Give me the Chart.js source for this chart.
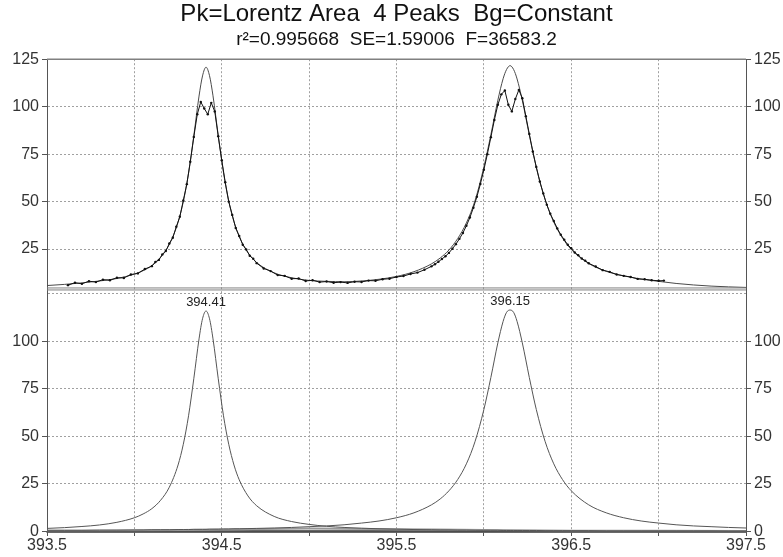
<!DOCTYPE html>
<html>
<head>
<meta charset="utf-8">
<script src="https://cdn.jsdelivr.net/npm/chart.js@4.4.1/dist/chart.umd.min.js"></script>
<style>
  html, body { margin: 0; padding: 0; background: #fff; }
</style>
</head>
<body>
<canvas id="myChart" width="783" height="557"></canvas>
<script>
const curveX = [393.5, 393.6, 393.7, 393.8, 393.9, 394.0, 394.05, 394.1, 394.15, 394.2,
    394.25, 394.28, 394.31, 394.34, 394.37, 394.39, 394.41, 394.43, 394.45, 394.48,
    394.51, 394.54, 394.57, 394.6, 394.65, 394.7, 394.8, 394.9, 395.0, 395.1,
    395.2, 395.3, 395.4, 395.5, 395.6, 395.7, 395.75, 395.8, 395.85, 395.9,
    395.95, 396.0, 396.04, 396.08, 396.11, 396.13, 396.15, 396.17, 396.19, 396.22,
    396.26, 396.3, 396.35, 396.4, 396.45, 396.5, 396.6, 396.7, 396.8, 396.9,
    397.0, 397.1, 397.2, 397.3, 397.4, 397.5];

// upper panel: fitted curve
const fitY = [5.8, 6.4, 7.2, 8.2, 9.5, 11.8, 13.6, 16.3, 20.6, 27.5,
    39.1, 50.0, 65.0, 84.6, 105.6, 116.2, 120.8, 116.3, 105.7, 84.7,
    65.3, 50.2, 39.4, 31.6, 23.1, 17.9, 12.5, 9.9, 8.5, 8.0,
    7.8, 8.2, 9.1, 10.6, 13.1, 17.2, 20.3, 24.5, 30.5, 38.8,
    50.7, 68.2, 85.2, 103.4, 114.7, 119.6, 121.6, 119.6, 114.6, 103.3,
    85.1, 68.0, 51.2, 39.2, 30.8, 24.8, 17.4, 13.3, 10.9, 9.2,
    8.0, 6.9, 6.1, 5.5, 5.1, 4.8];

// lower panel: the two main peaks
const peak1Y = [1.5, 1.9, 2.5, 3.3, 4.7, 7.1, 9.1, 11.9, 16.3, 23.2,
    34.9, 45.8, 60.8, 80.3, 101.3, 111.9, 116.0, 111.9, 101.3, 80.3,
    60.8, 45.8, 34.9, 27.1, 18.6, 13.4, 7.8, 5.1, 3.6, 2.6,
    2.0, 1.6, 1.3, 1.1, 0.9, 0.8, 0.7, 0.7, 0.6, 0.6,
    0.5, 0.5, 0.5, 0.5, 0.4, 0.4, 0.4, 0.4, 0.4, 0.4,
    0.4, 0.4, 0.3, 0.3, 0.3, 0.3, 0.3, 0.2, 0.2, 0.2,
    0.2, 0.2, 0.2, 0.2, 0.1, 0.1];
const peak2Y = [0.5, 0.5, 0.5, 0.6, 0.6, 0.7, 0.7, 0.8, 0.8, 0.8,
    0.9, 0.9, 0.9, 1.0, 1.0, 1.0, 1.0, 1.1, 1.1, 1.1,
    1.2, 1.2, 1.3, 1.3, 1.4, 1.5, 1.7, 2.0, 2.4, 2.8,
    3.4, 4.3, 5.4, 7.1, 9.7, 13.9, 17.0, 21.3, 27.2, 35.5,
    47.4, 64.1, 81.0, 99.2, 110.5, 115.3, 116.5, 115.3, 110.5, 99.2,
    81.0, 64.1, 47.4, 35.5, 27.2, 21.3, 13.9, 9.7, 7.1, 5.4,
    4.3, 3.4, 2.8, 2.4, 2.0, 1.7];

// lower panel: the two tiny peaks near zero
const smallX = [393.5, 394.0, 394.5, 395.0, 395.5, 396.0, 396.5, 397.0, 397.5];
const peak3Y = [0.2, 0.4, 0.9, 1.5, 1.1, 0.6, 0.3, 0.2, 0.1];
const peak4Y = [0.1, 0.1, 0.1, 0.1, 0.1, 0.1, 0.1, 0.1, 0.1];

// measured points
const dataX = [393.62, 393.66, 393.70, 393.74, 393.78, 393.82, 393.86, 393.90, 393.94, 393.98,
    394.02, 394.06, 394.10,
    394.12, 394.14, 394.16, 394.18, 394.20, 394.22, 394.24, 394.26, 394.28, 394.30,
    394.32, 394.34, 394.36, 394.38, 394.40, 394.42, 394.44, 394.46, 394.48, 394.50,
    394.52, 394.54, 394.56, 394.58, 394.60, 394.62, 394.64, 394.66, 394.68, 394.70,
    394.74, 394.78, 394.82, 394.86, 394.90, 394.94, 394.98, 395.02, 395.06, 395.10,
    395.14, 395.18, 395.22, 395.26, 395.30, 395.34, 395.38, 395.42, 395.46, 395.50,
    395.54, 395.58, 395.62, 395.66, 395.70,
    395.72, 395.74, 395.76, 395.78, 395.80, 395.82, 395.84, 395.86, 395.88, 395.90,
    395.92, 395.94, 395.96, 395.98, 396.00, 396.02, 396.04, 396.06, 396.08, 396.10,
    396.12, 396.14, 396.16, 396.18, 396.20, 396.22, 396.24, 396.26, 396.28, 396.30,
    396.32, 396.34, 396.36, 396.38, 396.40, 396.42, 396.44, 396.46, 396.48, 396.50,
    396.52, 396.54, 396.56, 396.58, 396.60,
    396.64, 396.68, 396.72, 396.76, 396.80, 396.84, 396.88, 396.92, 396.96, 397.00, 397.03];
const dataY = [6.0, 7.3, 6.7, 8.1, 7.6, 8.9, 8.6, 9.9, 9.8, 11.6,
    12.2, 14.5, 16.0,
    18.2, 19.3, 22.2, 24.0, 27.9, 31.0, 36.8, 42.0, 50.6, 59.2,
    71.0, 84.0, 96.0, 102.5, 99.0, 96.0, 102.0, 97.5, 84.4, 71.8,
    60.2, 50.0, 43.0, 36.1, 31.9, 27.3, 24.8, 21.5, 19.9, 17.6,
    14.8, 13.4, 11.3, 10.9, 9.4, 9.5, 8.2, 8.6, 7.6, 7.9,
    7.3, 7.6, 7.2, 7.8, 7.7, 8.4, 8.3, 9.1, 9.4, 10.3,
    10.8, 11.9, 12.6, 14.1, 15.9,
    17.0, 18.3, 19.8, 21.2, 23.0, 25.2, 27.6, 30.4, 33.5, 37.3,
    41.6, 46.8, 52.5, 59.3, 66.8, 75.0, 83.9, 93.0, 101.0, 106.5,
    108.5, 101.0, 97.5, 104.0, 108.8, 104.5, 95.0, 85.6, 76.4, 68.2,
    60.6, 54.3, 48.4, 43.6, 39.8, 35.9, 32.6, 29.9, 27.3, 25.4,
    23.2, 21.8, 20.0, 18.9, 17.5,
    15.8, 13.9, 13.0, 11.6, 10.9, 10.3, 9.3, 9.1, 8.6, 8.3, 8.4];

const peakCenters = [394.41, 396.15];
const peakLabels = ['394.41', '396.15'];

const xTicks = [393.5, 394, 394.5, 395, 395.5, 396, 396.5, 397, 397.5];
const xLabels = ['393.5', '', '394.5', '', '395.5', '', '396.5', '', '397.5'];
const topTicks = [25, 50, 75, 100, 125];
const topLabels = ['25', '50', '75', '100', '125'];
const bottomTicks = [0, 25, 50, 75, 100, 125];
const bottomLabels = ['0', '25', '50', '75', '100', ''];

Chart.defaults.font.family = "'Liberation Sans', Arial, sans-serif";

function pairs(xs, ys) {
    return xs.map((x, i) => ({ x: x, y: ys[i] }));
}

// one y axis of a panel; the panels are stacked with stackWeight
function yAxis(position, weight, range, ticks, labels, onChart, width) {
    return {
        type: 'linear',
        position: position,
        stack: position,
        stackWeight: range[1] - range[0],
        weight: weight,
        min: range[0],
        max: range[1],
        afterBuildTicks: s => { s.ticks = ticks.map(v => ({ value: v })); },
        afterFit: s => { s.width = width; },
        grid: {
            drawOnChartArea: onChart,
            color: '#a0a0a0',
            lineWidth: 1,
            tickLength: 5,
            tickWidth: 1,
            tickColor: c => (labels[c.index] === '' ? 'rgba(0,0,0,0)' : '#555')
        },
        border: { display: true, color: '#555', width: 1, dash: [2, 2] },
        ticks: {
            color: '#333',
            padding: 3,
            font: { size: 16 },
            callback: (v, i) => labels[i]
        }
    };
}

const panelLines = {
    id: 'panelLines',
    afterDatasetsDraw(chart) {
        const { ctx, chartArea, scales } = chart;
        const hline = (y, w) => {
            ctx.lineWidth = w;
            ctx.beginPath();
            ctx.moveTo(chartArea.left, y);
            ctx.lineTo(chartArea.right, y);
            ctx.stroke();
        };
        ctx.save();
        ctx.strokeStyle = '#808080';
        hline(scales.yTop.top, 1.5);
        hline(scales.yTop.bottom - 1, 1);
        hline(scales.yBot.top + 1, 1);
        ctx.strokeStyle = '#555';
        hline(scales.yBot.bottom, 1.5);

        // peak position labels above the component peaks
        ctx.fillStyle = '#222';
        ctx.font = "13px 'Liberation Sans', Arial, sans-serif";
        ctx.textAlign = 'center';
        ctx.textBaseline = 'bottom';
        [peak1Y, peak2Y].forEach((ys, i) => {
            const px = scales.x.getPixelForValue(peakCenters[i]);
            const py = scales.yBot.getPixelForValue(Math.max(...ys));
            ctx.fillText(peakLabels[i], px, py - 2);
        });
        ctx.restore();
    }
};

const ctx = document.getElementById('myChart').getContext('2d');

const myChart = new Chart(ctx, {
    type: 'line',
    data: {
        datasets: [{
            label: 'Data',
            yAxisID: 'yTop',
            data: pairs(dataX, dataY),
            borderColor: '#111',
            borderWidth: 1,
            pointRadius: 1.2,
            pointBorderWidth: 0,
            pointBackgroundColor: '#111',
            tension: 0
        }, {
            label: 'Fit',
            yAxisID: 'yTop',
            data: pairs(curveX, fitY),
            borderColor: '#4a4a4a',
            borderWidth: 1,
            pointRadius: 0,
            cubicInterpolationMode: 'monotone'
        }, {
            label: 'Peak 1',
            yAxisID: 'yBot',
            data: pairs(curveX, peak1Y),
            borderColor: '#555',
            borderWidth: 1,
            pointRadius: 0,
            cubicInterpolationMode: 'monotone'
        }, {
            label: 'Peak 2',
            yAxisID: 'yBot',
            data: pairs(curveX, peak2Y),
            borderColor: '#555',
            borderWidth: 1,
            pointRadius: 0,
            cubicInterpolationMode: 'monotone'
        }, {
            label: 'Peak 3',
            yAxisID: 'yBot',
            data: pairs(smallX, peak3Y),
            borderColor: '#999',
            borderWidth: 2,
            pointRadius: 0,
            cubicInterpolationMode: 'monotone'
        }, {
            label: 'Peak 4',
            yAxisID: 'yBot',
            data: pairs(smallX, peak4Y),
            borderColor: '#333',
            borderWidth: 1.5,
            pointRadius: 0
        }]
    },
    options: {
        responsive: false,
        animation: false,
        devicePixelRatio: 1,
        layout: { padding: { left: 10, right: 0, top: 0, bottom: 0 } },
        scales: {
            x: {
                type: 'linear',
                min: 393.5,
                max: 397.5,
                afterBuildTicks: s => { s.ticks = xTicks.map(v => ({ value: v })); },
                afterFit: s => { s.height = 25; },
                grid: { color: '#a0a0a0', lineWidth: 1, tickLength: 4, tickColor: '#555' },
                border: { display: true, color: '#555', width: 1.5, dash: [2, 2] },
                ticks: {
                    color: '#333',
                    padding: 0,
                    maxRotation: 0,
                    autoSkip: false,
                    font: { size: 16 },
                    callback: (v, i) => xLabels[i]
                }
            },
            yTop: yAxis('left', 2, [4, 125], topTicks, topLabels, true, 37),
            yBot: yAxis('left', 1, [-0.4, 127.6], bottomTicks, bottomLabels, true, 37),
            yTopR: yAxis('right', 1, [4, 125], topTicks, topLabels, false, 37),
            yBotR: yAxis('right', 2, [-0.4, 127.6], bottomTicks, bottomLabels, false, 37)
        },
        plugins: {
            legend: { display: false },
            tooltip: { enabled: false },
            title: {
                display: true,
                text: 'Pk=Lorentz Area  4 Peaks  Bg=Constant',
                color: '#111',
                font: { size: 24, weight: 'normal', lineHeight: 1.1 },
                padding: { top: 1, bottom: 0 }
            },
            subtitle: {
                display: true,
                text: 'r\u00b2=0.995668  SE=1.59006  F=36583.2',
                color: '#111',
                font: { size: 19, weight: 'normal', lineHeight: 1.2 },
                padding: { top: 1, bottom: 8 }
            }
        }
    },
    plugins: [panelLines]
});
</script>
</body>
</html>
